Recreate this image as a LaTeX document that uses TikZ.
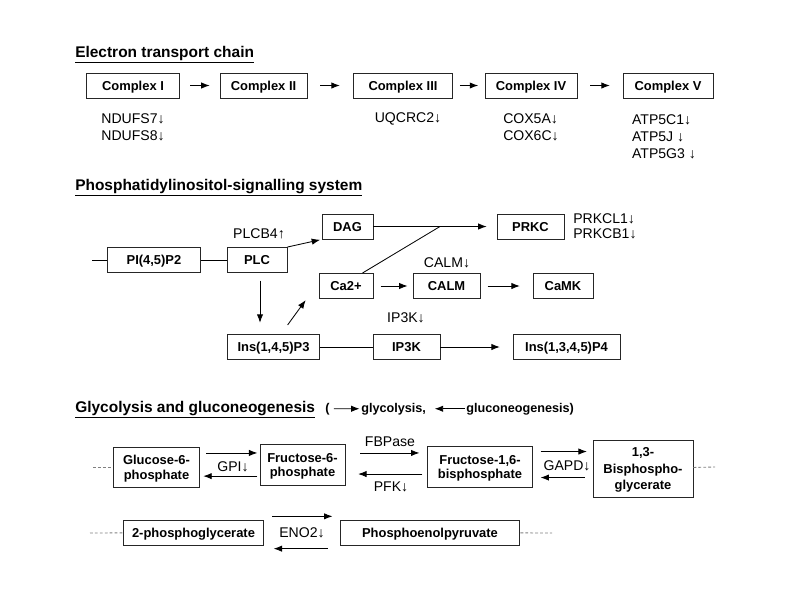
\documentclass[tikz,border=0pt]{standalone}
\usepackage{fontspec}
\setmainfont{Liberation Sans}
\usetikzlibrary{arrows.meta,positioning,calc}

\tikzset{
  box/.style={draw=black!85, line width=0.7pt, font=\bfseries\fontsize{9.2}{10.6}\selectfont,
    align=center, inner sep=1pt, text depth=0pt, minimum height=25*0.025cm},
  bw/.style={minimum width=#1*0.025cm},
  bh/.style={minimum height=#1*0.025cm},
  gene/.style={font=\fontsize{10}{12}\selectfont, align=left, inner sep=0pt},
  flow/.style={-{Latex[length=6pt,width=4.5pt]}, line width=0.6pt},
  link/.style={line width=0.6pt},
  stub/.style={gray, line width=0.6pt, dash pattern=on 2pt off 1.5pt},
  sectitle/.style={font=\bfseries\fontsize{11}{13}\selectfont, anchor=base west, inner sep=0pt},
  legtext/.style={font=\bfseries\fontsize{9}{11}\selectfont, anchor=base west, inner sep=0pt},
}

\begin{document}
\begin{tikzpicture}[x=0.25mm, y=-0.25mm]
  \useasboundingbox (0,0) rectangle (800,600);

  % electron transport chain
  \node[sectitle] (etc) at (75,57) {\underline{Electron transport chain}};
  \node[box,bw=94]  (c1) at (133,85.5) {Complex I};
  \node[box,bw=87]  (c2) at (263.5,85.5) {Complex II};
  \node[box,bw=100] (c3) at (403,85.5) {Complex III};
  \node[box,bw=92]  (c4) at (531,85.5) {Complex IV};
  \node[box,bw=90]  (c5) at (668,85.5) {Complex V};
  \foreach \a/\b/\g in {c1/c2/7, c2/c3/9, c3/c4/4.5, c4/c5/9}
    \draw[flow, shorten <=\g pt, shorten >=\g pt] (\a) -- (\b);
  \node[gene] (g1) at (133,127.5) {NDUFS7↓\\NDUFS8↓};
  \node[gene] (g3) at (408,119)   {UQCRC2↓};
  \node[gene] (g4) at (531,127)   {COX5A↓\\COX6C↓};
  \node[gene] (g5) at (664,137)   {ATP5C1↓\\ATP5J ↓\\ATP5G3 ↓};

  % phosphatidylinositol signalling
  \node[sectitle] (pis) at (75,190) {\underline{Phosphatidylinositol-signalling system}};
  \coordinate (pin) at (92,260);
  \node[box,bw=94]  (pip2) at (154,260) {PI(4,5)P2};
  \node[box,bw=60]  (plc)  at (257,260) {PLC};
  \node[gene]       (plcg) at (259,234) {PLCB4↑};
  \node[box,bw=51]  (dag)  at (347.5,226.5) {DAG};
  \node[box,bw=67]  (prkc) at (530.5,226.5) {PRKC};
  \node[gene,anchor=west,font=\fontsize{10}{10.8}\selectfont] (prkcg) at (573,226.5) {PRKCL1↓\\PRKCB1↓};
  \node[box,bw=54]  (ca)   at (346,286) {Ca2+};
  \node[box,bw=67]  (calm) at (446.5,286) {CALM};
  \node[gene]       (calmg) at (447,263) {CALM↓};
  \node[box,bw=60]  (camk) at (563,286) {CaMK};
  \node[box,bw=93]  (ip3)  at (273.5,347) {Ins(1,4,5)P3};
  \node[box,bw=67]  (ip3k) at (406.5,347) {IP3K};
  \node[gene]       (ip3kg) at (406,318) {IP3K↓};
  \node[box,bw=107] (ip4)  at (566.5,347) {Ins(1,3,4,5)P4};
  \coordinate (join) at (440,226.5);

  \draw[link] (pin) -- (pip2);
  \draw[link] (pip2) -- (plc);
  \draw[flow, shorten >=1pt] (plc.north east) -- (dag.south west);
  \draw[flow, shorten >=7pt] (dag) -- (prkc);
  \draw[link] ($(ca.north east)+(-11,0)$) -- (join);
  \draw[flow, shorten <=5pt, shorten >=3.5pt] (ca) -- (calm);
  \draw[flow, shorten <=5pt, shorten >=9pt] (calm) -- (camk);
  \draw[flow, shorten <=5.5pt, shorten >=8pt] ($(plc.south)+(3,0)$) -- ($(plc.south |- ip3.north)+(3,0)$);
  \draw[flow, shorten <=8pt, shorten >=1pt] ($(ip3.north)+(7.5,0)$) -- ($(ca.south west)+(-12,0)$);
  \draw[link] (ip3) -- (ip3k);
  \draw[flow, shorten >=9pt] (ip3k) -- (ip4);

  % glycolysis and gluconeogenesis
  \node[sectitle] (gly) at (75,412) {\underline{Glycolysis and gluconeogenesis}};
  \node[legtext] (lpar) at (325,412) {(};
  \node[legtext] (lgly) at (361,412) {glycolysis,};
  \node[legtext] (lglu) at (466,412) {gluconeogenesis)};
  \draw[flow, shorten <=3pt, shorten >=1pt] (lpar.east) -- (lgly.west);
  \draw[flow, shorten <=1pt, shorten >=6pt] (lglu.west) -- (lgly.east);

  \node[box,bw=87,bh=40]  (g6p) at (156.5,467) {Glucose-6-\\phosphate};
  \node[box,bw=85,bh=41]  (f6p) at (302.5,465) {Fructose-6-\\phosphate};
  \node[box,bw=106,bh=41] (fbp) at (480,467) {Fructose-1,6-\\bisphosphate};
  \node[box,bw=100,bh=57,font=\bfseries\fontsize{9.2}{12}\selectfont] (bpg) at (643,468.5) {1,3-\\Bisphospho-\\glycerate};
  \node[box,bw=141] (pg2) at (193.5,532.5) {2-phosphoglycerate};
  \node[box,bw=180] (pep) at (430,532.5) {Phosphoenolpyruvate};

  \coordinate (gin)  at (93,467);
  \coordinate (gout) at (715,467);
  \coordinate (pin2) at (90,533);
  \coordinate (pout) at (552,533);
  \draw[stub] (gin) -- (g6p);
  \draw[stub] (bpg) -- (gout);
  \draw[stub] (pin2) -- (pg2);
  \draw[stub] (pep) -- (pout);

  \draw[flow, shorten <=4pt, shorten >=1.5pt] ([yshift=10pt]g6p.east) -- ([yshift=10pt]g6p.east -| f6p.west);
  \draw[flow, shorten <=1.5pt, shorten >=2pt] ([yshift=-6.5pt]g6p.east -| f6p.west) -- ([yshift=-6.5pt]g6p.east);
  \draw[flow, shorten <=10.5pt, shorten >=5pt] ([yshift=10pt]fbp.west -| f6p.east) -- ([yshift=10pt]fbp.west);
  \draw[flow, shorten <=3pt, shorten >=9pt] ([yshift=-5pt]fbp.west) -- ([yshift=-5pt]fbp.west -| f6p.east);
  \draw[flow, shorten <=5pt, shorten >=4pt] ([yshift=11pt]fbp.east) -- ([yshift=11pt]fbp.east -| bpg.west);
  \draw[flow, shorten <=5.5pt, shorten >=5pt] ([yshift=-7.5pt]fbp.east -| bpg.west) -- ([yshift=-7.5pt]fbp.east);
  \draw[flow, shorten <=5.5pt, shorten >=5pt] ([yshift=11.5pt]pg2.east) -- ([yshift=11.5pt]pep.west);
  \draw[flow, shorten <=8.5pt, shorten >=6.5pt] ([yshift=-11.5pt]pep.west) -- ([yshift=-11.5pt]pg2.east);

  \node[gene] (gpi)  at (233,467) {GPI↓};
  \node[gene] (fbpa) at (390,442) {FBPase};
  \node[gene] (pfk)  at (391,487) {PFK↓};
  \node[gene] (gapd) at (567,466) {GAPD↓};
  \node[gene] (eno)  at (302,533) {ENO2↓};
\end{tikzpicture}
\end{document}
